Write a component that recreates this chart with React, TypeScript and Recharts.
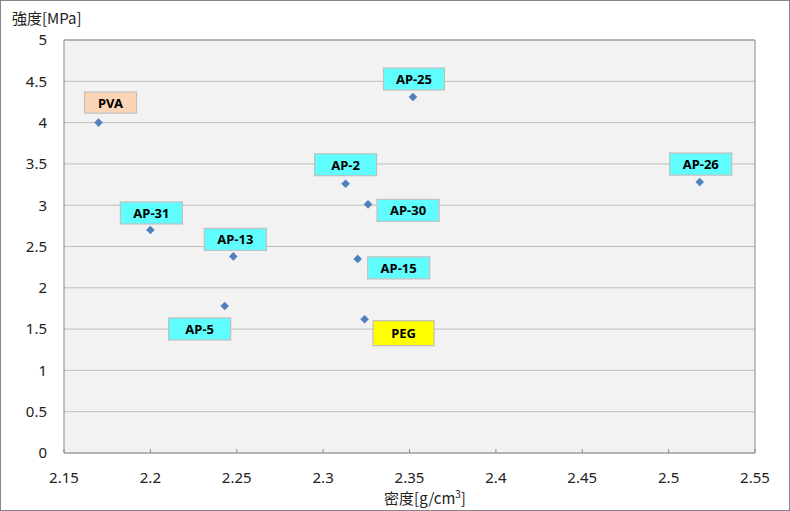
import React from 'react';
import { ScatterChart, Scatter, XAxis, YAxis, CartesianGrid, ReferenceLine } from 'recharts';

// 試料ごとの密度と強度
const names = ['PVA', 'AP-25', 'AP-2', 'AP-30', 'AP-26', 'AP-31', 'AP-13', 'AP-15', 'AP-5', 'PEG'];
const densities = [2.17, 2.352, 2.313, 2.326, 2.518, 2.2, 2.248, 2.32, 2.243, 2.324];
const strengths = [4.0, 4.31, 3.26, 3.01, 3.28, 2.7, 2.38, 2.35, 1.78, 1.62];

const xTicks = [2.15, 2.2, 2.25, 2.3, 2.35, 2.4, 2.45, 2.5, 2.55];
const yTicks = [0, 0.5, 1, 1.5, 2, 2.5, 3, 3.5, 4, 4.5, 5];

const chartData = names.map((name, i) => ({ name, x: densities[i], y: strengths[i] }));

// ラベルの配置（点からのずれ）と色
const CYAN = '#5ffdfd';
const labelStyle: Record<string, { dx: number; dy: number; w: number; h: number; fill: string }> = {
    'PVA': { dx: 12, dy: -20, w: 52, h: 21, fill: '#fbd5b5' },
    'AP-25': { dx: 1, dy: -18, w: 61, h: 22, fill: CYAN },
    'AP-2': { dx: 0, dy: -19, w: 62, h: 22, fill: CYAN },
    'AP-30': { dx: 40, dy: 6, w: 62, h: 22, fill: CYAN },
    'AP-26': { dx: 1, dy: -18, w: 62, h: 22, fill: CYAN },
    'AP-31': { dx: 1, dy: -17, w: 62, h: 22, fill: CYAN },
    'AP-13': { dx: 2, dy: -17, w: 62, h: 22, fill: CYAN },
    'AP-15': { dx: 41, dy: 9, w: 62, h: 22, fill: CYAN },
    'AP-5': { dx: -25, dy: 23, w: 62, h: 22, fill: CYAN },
    'PEG': { dx: 39, dy: 14, w: 61, h: 25, fill: '#ffff00' },
};

const PointWithLabel = (props: any) => {
    const { cx, cy, payload } = props;
    const s = labelStyle[payload.name];
    const lx = cx + s.dx;
    const ly = cy + s.dy;
    const r = 4.3;
    return (
        <g>
            <rect x={lx - s.w / 2} y={ly - s.h / 2} width={s.w} height={s.h}
                  fill={s.fill} stroke="#c0c0c0" strokeWidth={1.2} />
            <text x={lx} y={ly} textAnchor="middle" dominantBaseline="central"
                  fontFamily="'Noto Sans', sans-serif" fontWeight="bold" fontSize={13} fill="#000">
                {payload.name}
            </text>
            <path d={`M${cx},${cy - r}L${cx + r},${cy}L${cx},${cy + r}L${cx - r},${cy}Z`} fill="#4f81bd" />
        </g>
    );
};

const tickStyle = { fontSize: 15, fill: '#222', fontFamily: "'Noto Sans', sans-serif" };

export default function App() {
    return (
        <div style={{ position: 'absolute', left: 0, top: 0, width: 790, height: 511, background: '#fff' }}>
            <ScatterChart width={790} height={511} margin={{ top: 40, right: 35, left: 0, bottom: 0 }}>
                <CartesianGrid vertical={false} fill="#f2f2f2" stroke="#bfbfbf" />
                <XAxis
                    type="number"
                    dataKey="x"
                    domain={[2.15, 2.55]}
                    ticks={xTicks}
                    interval={0}
                    height={58}
                    tick={tickStyle}
                    tickSize={-4}
                    tickMargin={23}
                    stroke="#8c8c8c"
                />
                <YAxis
                    type="number"
                    dataKey="y"
                    domain={[0, 5]}
                    ticks={yTicks}
                    interval={0}
                    width={64}
                    tick={tickStyle}
                    tickLine={false}
                    tickSize={6}
                    tickMargin={11}
                    stroke="#8c8c8c"
                />
                <ReferenceLine y={5} stroke="#8c8c8c" />
                <ReferenceLine x={2.55} stroke="#8c8c8c" />
                <Scatter data={chartData} shape={<PointWithLabel />} isAnimationActive={false} />
            </ScatterChart>
            <div style={{
                position: 'absolute', left: 12, top: 7, fontSize: 15, color: '#222',
                fontFamily: "'Noto Sans CJK JP', sans-serif", whiteSpace: 'nowrap'
            }}>
                強度[MPa]
            </div>
            <div style={{
                position: 'absolute', left: 0, width: 850, top: 486, textAlign: 'center', fontSize: 15, color: '#222',
                fontFamily: "'Noto Sans CJK JP', sans-serif", whiteSpace: 'nowrap'
            }}>
                密度[g/cm<sup style={{ fontSize: 10 }}>3</sup>]
            </div>
            <div style={{
                position: 'absolute', left: 0, top: 0, width: 790, height: 511, boxSizing: 'border-box',
                border: '1px solid #868686', pointerEvents: 'none'
            }} />
        </div>
    );
}
